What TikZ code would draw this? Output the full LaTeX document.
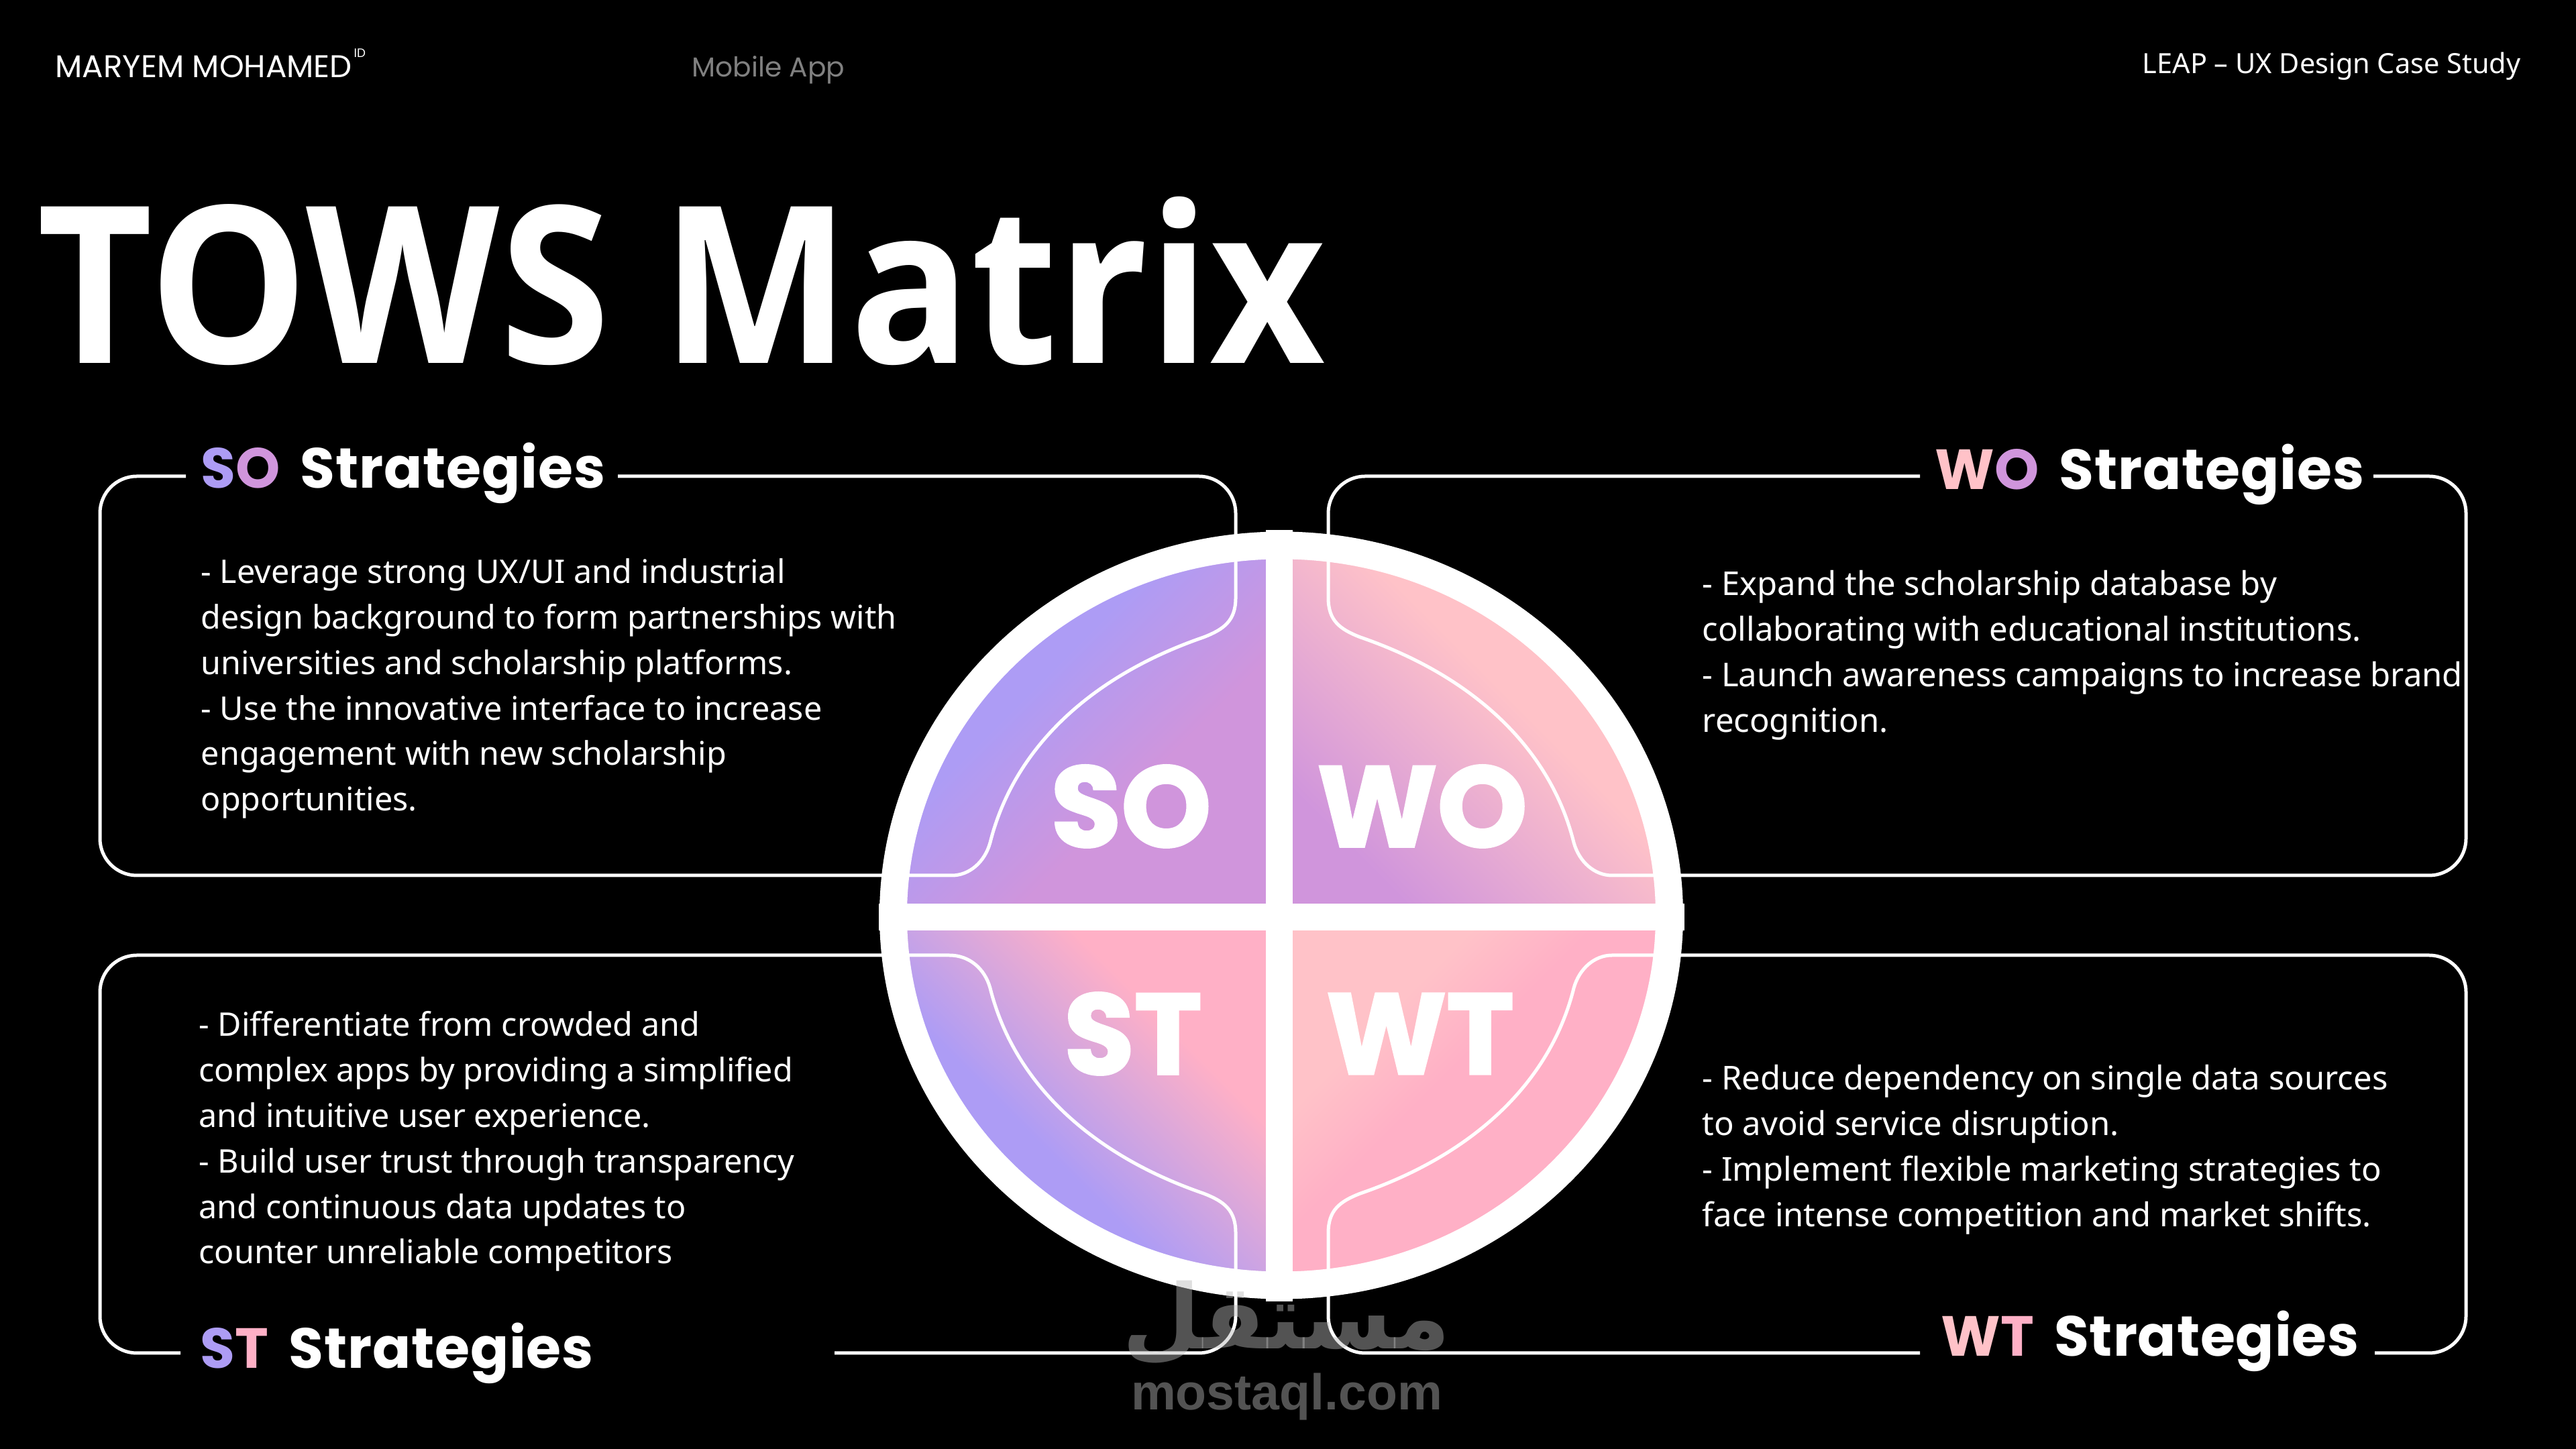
\documentclass[tikz,border=0pt]{standalone}
\usepackage{fontspec}
\usepackage{xcolor}
\setmainfont{Noto Sans}
\newfontfamily\titlefont[FakeStretch=.912]{Open Sans}
\newfontfamily\popfont{Poppins}
\newfontfamily\headfont[LetterSpace=1,WordSpace=1.6]{Poppins}
\newfontfamily\quadfont[BoldFeatures={FakeBold=2}]{Poppins}
\newfontfamily\markfont{Liberation Sans}
\newfontfamily\arabicfont[Script=Arabic]{DejaVu Sans}
\TeXXeTstate=1
\definecolor{lav}{HTML}{AD9CF5}
\definecolor{orchid}{HTML}{D095DC}
\definecolor{blush}{HTML}{FFC2C8}
\definecolor{rose}{HTML}{FFB0C6}
\definecolor{stampgray}{gray}{.73}
\pgfdeclareverticalshading{sofill}{100bp}{color(0bp)=(orchid); color(44.3bp)=(orchid); color(53.4bp)=(lav); color(100bp)=(lav)}
\pgfdeclareverticalshading{wofill}{100bp}{color(0bp)=(orchid); color(38.4bp)=(orchid); color(52.1bp)=(blush); color(100bp)=(blush)}
\pgfdeclareverticalshading{stfill}{100bp}{color(0bp)=(lav); color(47.2bp)=(lav); color(58.1bp)=(rose); color(100bp)=(rose)}
\pgfdeclareverticalshading{wtfill}{100bp}{color(0bp)=(rose); color(53bp)=(rose); color(58.3bp)=(blush); color(100bp)=(blush)}
\tikzset{
	frameline/.style={draw=white,line width=.05cm},
	plaintext/.style={anchor=base west,inner sep=0,text=white},
	bodytext/.style={anchor=north west,inner sep=0,align=left,text=white,font=\fontsize{13.8}{19.3}\selectfont},
	bodywide/.style={bodytext,font=\fontsize{13.95}{19.3}\selectfont},
	headtext/.style={plaintext,font=\fontsize{24}{28}\headfont\bfseries},
	quadtext/.style={inner sep=0,text=white,font=\fontsize{48.5}{50}\quadfont\bfseries},
	ring/.style={draw=white,line width=.41cm},
	bar/.style={fill=white},
	stamp/.style={inner sep=0,text=stampgray,text opacity=.45}
}
\begin{document}
\begin{tikzpicture}
	\useasboundingbox (0,0) rectangle (38.4,21.6);
	\fill[black] (0,0) rectangle (38.4,21.6);

	% top line and title
	\node[plaintext,font=\fontsize{13.3}{15}\popfont] (brand) at (.82,20.44){MARYEM MOHAMED};
	\node[plaintext,font=\fontsize{5.2}{6}\popfont] (brandid) at (5.27,20.74){ID};
	\node[plaintext,font=\fontsize{11.6}{14}\popfont,text=gray] (kind) at (10.31,20.45){Mobile App};
	\node[plaintext,font=\fontsize{11.8}{14}\selectfont] (study) at (31.93,20.5){LEAP – UX Design Case Study};
	\node[plaintext,font=\fontsize{93}{100}\titlefont\bfseries] (title) at (.55,16.18){TOWS Matrix};

	% open ends of the frames
	\coordinate (so a) at (9.21,14.5);
	\coordinate (so b) at (2.77,14.5);
	\coordinate (wo a) at (28.62,14.5);
	\coordinate (wo b) at (35.38,14.5);
	\coordinate (st a) at (2.69,1.43);
	\coordinate (st b) at (12.44,1.43);
	\coordinate (wt a) at (28.62,1.43);
	\coordinate (wt b) at (35.4,1.43);

	% quarters of the disc
	\begin{scope}
		\clip (19.1,7.955) ellipse [x radius=5.8,y radius=5.54];
		\foreach \fillname/\ang/\cx/\cy/\xa/\ya/\xb/\yb in {sofill/45/16/10.8/13/7.93/19.07/13.8,wofill/-45/22/11/19.07/7.93/25.2/13.8,stfill/-45/16/5/13/2.1/19.07/7.93,wtfill/45/22/5/19.07/2.1/25.2/7.93}{
			\begin{scope}
				\clip (\xa,\ya) rectangle (\xb,\yb);
				\shade[shading=\fillname,shading angle=\ang] (\cx-6,\cy-6) rectangle (\cx+6,\cy+6);
			\end{scope}
		}
	\end{scope}

	% frames
	\draw[frameline] (so a)--(17.87,14.5) arc[start angle=90,end angle=0,radius=.55]--(18.42,12.69) .. controls (18.42,12.35) and (18.25,12.22) .. (17.94,12.10) .. controls (16.2,11.5) and (15.1,10.4) .. (14.76,9.04) .. controls (14.68,8.75) and (14.45,8.55) .. (14.19,8.55)--(2.04,8.55) arc[start angle=270,end angle=180,radius=.55]--(1.49,13.95) arc[start angle=180,end angle=90,radius=.55]--(so b);
	\draw[frameline] (wo a)--(20.35,14.5) arc[start angle=90,end angle=180,radius=.55]--(19.8,12.69) .. controls (19.8,12.35) and (19.97,12.22) .. (20.28,12.10) .. controls (22.02,11.5) and (23.12,10.4) .. (23.46,9.04) .. controls (23.54,8.75) and (23.77,8.55) .. (24.03,8.55)--(36.21,8.55) arc[start angle=270,end angle=360,radius=.55]--(36.76,13.95) arc[start angle=0,end angle=90,radius=.55]--(wo b);
	\draw[frameline] (st a)--(2.04,1.43) arc[start angle=270,end angle=180,radius=.55]--(1.49,6.81) arc[start angle=180,end angle=90,radius=.55]--(14.15,7.36) .. controls (14.45,7.36) and (14.68,7.16) .. (14.76,6.87) .. controls (15.1,5.51) and (16.2,4.41) .. (17.94,3.81) .. controls (18.25,3.69) and (18.42,3.56) .. (18.42,3.22)--(18.42,1.98) arc[start angle=0,end angle=-90,radius=.55]--(st b);
	\draw[frameline] (wt a)--(20.35,1.43) arc[start angle=270,end angle=180,radius=.55]--(19.8,3.22) .. controls (19.8,3.56) and (19.97,3.69) .. (20.28,3.81) .. controls (22.02,4.41) and (23.12,5.51) .. (23.46,6.87) .. controls (23.54,7.16) and (23.77,7.36) .. (24.03,7.36)--(36.21,7.36) arc[start angle=90,end angle=0,radius=.55]--(36.76,1.98) arc[start angle=0,end angle=-90,radius=.55]--(wt b);

	% ring and cross
	\draw[ring] (19.1,7.955) ellipse [x radius=5.785,y radius=5.515];
	\fill[bar] (18.87,2.2) rectangle (19.27,13.7);
	\fill[bar] (13.1,7.73) rectangle (25.11,8.13);

	% letters in the disc
	\node[quadtext] (so) at (16.86,9.58){SO};
	\node[quadtext] (wo) at (21.2,9.58){WO};
	\node[quadtext] (st) at (16.89,6.19){ST};
	\node[quadtext] (wt) at (21.17,6.19){WT};

	% headings
	\node[headtext] (so head) at (2.99,14.32){\textcolor{lav}{S}\textcolor{orchid}{O} Strategies};
	\node[headtext] (wo head) at (28.84,14.3){\textcolor{blush}{W}\textcolor{orchid}{O} Strategies};
	\node[headtext] (st head) at (2.98,1.2){\textcolor{lav}{S}\textcolor{rose}{T} Strategies};
	\node[headtext] (wt head) at (28.93,1.38){\textcolor{blush}{W}\textcolor{rose}{T} Strategies};

	% body texts
	\node[bodytext] (so body) at (2.99,13.28){- Leverage strong UX/UI and industrial\\design background to form partnerships with\\universities and scholarship platforms.\\- Use the innovative interface to increase\\engagement with new scholarship\\opportunities.};
	\node[bodywide] (wo body) at (25.37,13.1){- Expand the scholarship database by\\collaborating with educational institutions.\\- Launch awareness campaigns to increase brand\\recognition.};
	\node[bodytext] (st body) at (2.96,6.53){- Differentiate from crowded and\\complex apps by providing a simplified\\and intuitive user experience.\\- Build user trust through transparency\\and continuous data updates to\\counter unreliable competitors};
	\node[bodywide] (wt body) at (25.37,5.73){- Reduce dependency on single data sources\\to avoid service disruption.\\- Implement flexible marketing strategies to\\face intense competition and market shifts.};

	% stamp
	\node[stamp,font=\fontsize{38}{42}\arabicfont\bfseries] (stamp word) at (19.18,1.88){\beginR مستقل\endR};
	\node[stamp,font=\fontsize{21.4}{24}\markfont\bfseries] (stamp site) at (19.18,.78){mostaql.com};
\end{tikzpicture}
\end{document}
